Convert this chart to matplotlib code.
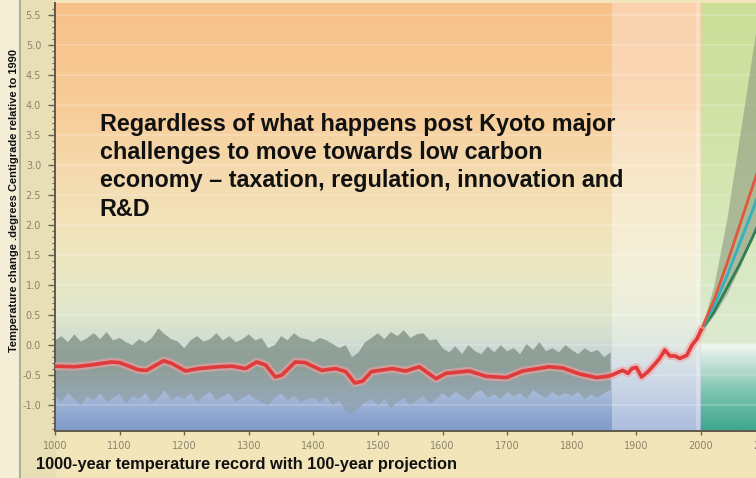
import numpy as np
import matplotlib
matplotlib.use("Agg")
import matplotlib.pyplot as plt
from matplotlib.colors import LinearSegmentedColormap

# reconstructed (smoothed) temperature, red line
recon_years = [1000, 1030, 1056, 1087, 1100, 1129, 1142, 1168, 1180, 1202, 1222, 1253,
               1274, 1295, 1312, 1326, 1341, 1351, 1372, 1387, 1413, 1434, 1450, 1464,
               1476, 1490, 1522, 1543, 1564, 1590, 1605, 1641, 1668, 1699, 1724, 1765,
               1786, 1812, 1838, 1855, 1864, 1872, 1879, 1887, 1893, 1900, 1908, 1918,
               1929, 1936, 1944, 1952, 1960, 1967, 1978, 1986, 1994, 2000]
recon_temp = [-0.35, -0.36, -0.33, -0.28, -0.29, -0.41, -0.42, -0.26, -0.30, -0.43, -0.39, -0.36,
              -0.35, -0.39, -0.28, -0.33, -0.53, -0.50, -0.28, -0.29, -0.42, -0.39, -0.44, -0.63,
              -0.60, -0.44, -0.39, -0.43, -0.36, -0.56, -0.47, -0.43, -0.52, -0.54, -0.43, -0.36,
              -0.38, -0.48, -0.54, -0.52, -0.49, -0.45, -0.42, -0.47, -0.39, -0.37, -0.53, -0.44,
              -0.31, -0.22, -0.08, -0.18, -0.18, -0.22, -0.17, 0.00, 0.11, 0.25]

# uncertainty band of the proxy record
band_years = list(range(1000, 1861, 10))
band_upper = [0.08, 0.15, 0.05, 0.18, 0.06, 0.12, 0.20, 0.10, 0.22, 0.08,
              0.12, 0.05, 0.00, 0.10, 0.04, 0.12, 0.28, 0.18, 0.10, 0.06,
              -0.05, 0.08, 0.15, 0.06, 0.10, 0.20, 0.08, 0.15, 0.05, 0.10,
              0.18, 0.08, 0.12, -0.05, 0.00, 0.15, 0.08, 0.20, 0.12, 0.10,
              0.05, 0.12, 0.08, 0.02, -0.05, 0.00, -0.20, -0.12, 0.05, 0.12,
              0.20, 0.10, 0.22, 0.15, 0.25, 0.12, 0.18, 0.20, 0.08, 0.10,
              -0.05, -0.12, -0.02, -0.15, 0.00, -0.10, -0.15, -0.02, -0.12, 0.00,
              -0.10, -0.05, -0.15, 0.02, -0.08, 0.05, -0.10, -0.05, -0.12, 0.00,
              -0.08, -0.15, -0.05, -0.12, -0.08, -0.20, -0.12]
band_lower = [-0.85, -0.95, -0.80, -0.90, -1.00, -0.85, -0.92, -0.80, -0.95, -0.88,
              -0.82, -0.98, -0.85, -0.90, -0.80, -0.95, -0.88, -0.75, -0.92, -0.85,
              -0.90, -0.80, -0.95, -0.85, -0.78, -0.92, -0.85, -0.80, -0.95, -0.88,
              -0.82, -0.90, -0.95, -1.00, -0.88, -0.80, -0.92, -0.85, -0.95, -0.90,
              -0.88, -0.95, -0.85, -1.00, -0.92, -1.10, -1.15, -1.05, -0.95, -0.90,
              -1.00, -0.90, -1.05, -0.95, -0.88, -1.00, -0.92, -0.85, -0.98, -0.90,
              -0.80, -0.88, -0.78, -0.85, -0.92, -0.80, -0.75, -0.88, -0.82, -0.90,
              -0.78, -0.85, -0.80, -0.90, -0.75, -0.82, -0.88, -0.78, -0.85, -0.80,
              -0.85, -0.78, -0.90, -0.82, -0.88, -0.80, -0.75]

# 100-year projections
proj_years = [2000, 2020, 2040, 2060, 2080, 2100]
proj_high = [0.25, 1.00, 2.10, 3.50, 4.90, 6.30]
proj_low = [0.20, 0.50, 0.85, 1.30, 1.80, 2.30]
proj_red = [0.25, 0.75, 1.35, 2.00, 2.65, 3.30]
proj_teal = [0.25, 0.65, 1.15, 1.70, 2.25, 2.85]
proj_green = [0.25, 0.55, 0.95, 1.35, 1.80, 2.30]

year_ticks = list(range(1000, 2101, 100))
temp_ticks = [-1.0, -0.5, 0.0, 0.5, 1.0, 1.5, 2.0, 2.5, 3.0, 3.5, 4.0, 4.5, 5.0, 5.5]

ymin, ymax = -1.43, 5.7

fig = plt.figure(figsize=(7.56, 4.78), dpi=100, facecolor='#f2e5ba')
# left strip behind the y label
fig.patches.append(plt.Rectangle((0, 0), 20 / 756, 1, transform=fig.transFigure,
                                 color='#f5eed6', zorder=-2))
fig.patches.append(plt.Rectangle((20 / 756, 0), 35 / 756, 1, transform=fig.transFigure,
                                 color='#e8dfb6', zorder=-2))
fig.lines.append(plt.Line2D([20 / 756, 20 / 756], [0, 1], transform=fig.transFigure,
                            color='#a9b296', lw=1.5, zorder=-1))

ax = fig.add_axes([55 / 756, 1 - 431 / 478, 710.6 / 756, 428 / 478])


def grad(stops):
    pos = [(v - ymin) / (ymax - ymin) for v, c in stops]
    return LinearSegmentedColormap.from_list('g', list(zip(pos, [c for v, c in stops])))


past = grad([(-1.43, '#7f9bcb'), (-0.8, '#a9bbd8'), (-0.3, '#c3d1da'), (0.1, '#d2ded0'),
             (0.5, '#dfe6cc'), (1.2, '#ebe8c4'), (2.0, '#f2e3bb'), (3.0, '#f5d9ac'),
             (4.0, '#f7cc98'), (5.7, '#f8c088')])
future = grad([(-1.43, '#3fa88f'), (-0.8, '#7cc3ae'), (-0.3, '#c6e2d8'), (-0.02, '#f0f5f0'),
               (0.02, '#dcebd0'), (1.0, '#d9e9c6'), (3.0, '#d4e5ae'), (5.7, '#cbdd96')])
col = np.linspace(0, 1, 400).reshape(-1, 1)
ax.imshow(col, cmap=past, origin='lower', extent=[1000, 2000, ymin, ymax], aspect='auto', zorder=0)
ax.imshow(col, cmap=future, origin='lower', extent=[2000, 2100, ymin, ymax], aspect='auto', zorder=0)

# lighter column over the instrumental period
ax.axvspan(1862, 1998, ymax=0.75, color='white', alpha=0.35, lw=0, zorder=1)
ax.axvspan(1862, 1998, ymin=0.75, color='#fde8dc', alpha=0.45, lw=0, zorder=1)
ax.axvspan(1992, 2000, color='white', alpha=0.25, lw=0, zorder=1)
for t in temp_ticks:
    ax.axhline(t, color='white', alpha=0.18, lw=1.5, zorder=1)

# proxy band: grey-green on top fading to blue-grey below
band = ax.fill_between(band_years, band_lower, band_upper, color='none', lw=0, zorder=2)
band_cmap = grad([(-1.43, '#8fa3b8'), (-0.9, '#93a4b0'), (-0.4, '#86978e'), (0.3, '#87998a'),
                  (5.7, '#87998a')])
shade = ax.imshow(col, cmap=band_cmap, origin='lower', extent=[1000, 1860, ymin, ymax],
                  aspect='auto', alpha=0.85, zorder=2)
shade.set_clip_path(band.get_paths()[0], transform=ax.transData)

ax.fill_between(proj_years, proj_low, proj_high, color='#8e9a80', alpha=0.6, lw=0, zorder=2)
ax.plot(proj_years, proj_green, color='#2f7f55', lw=2, zorder=3)
ax.plot(proj_years, proj_teal, color='#2fb2c2', lw=2, zorder=3)
ax.plot(proj_years, proj_red, color='#e0573c', lw=2, zorder=3)

ax.plot(recon_years, recon_temp, color='#f4a0a0', lw=6, alpha=0.6, solid_joinstyle='round', zorder=4)
ax.plot(recon_years, recon_temp, color='#e03a3a', lw=2.6, solid_joinstyle='round', zorder=5)

ax.set_xlim(1000, 2100)
ax.set_ylim(ymin, ymax)
ax.set_xticks(year_ticks)
ax.set_yticks(temp_ticks)
ax.set_yticks(np.arange(-1.4, 5.7, 0.1), minor=True)
ax.set_yticklabels(['%.1f' % t for t in temp_ticks])
ax.tick_params(axis='y', which='major', length=5, width=1, color='#6a6452',
               labelsize=7, labelcolor='#8c836c', pad=5)
ax.tick_params(axis='y', which='minor', length=2.5, width=0.8, color='#6a6452')
ax.tick_params(axis='x', length=3, width=1, color='#6a6452', labelsize=7,
               labelcolor='#8c836c', pad=4)
for s in ['top', 'right']:
    ax.spines[s].set_visible(False)
for s in ['left', 'bottom']:
    ax.spines[s].set_color('#5f5b4a')
    ax.spines[s].set_linewidth(1.4)

ax.text(1069, 3.87, 'Regardless of what happens post Kyoto major\n'
        'challenges to move towards low carbon\n'
        'economy \u2013 taxation, regulation, innovation and\n'
        'R&D', fontsize=16.8, fontweight='bold', color='#111111', va='top', ha='left',
        linespacing=1.29, family=['Liberation Sans', 'DejaVu Sans'], zorder=6)

fig.text(14 / 756, 1 - 201 / 478, 'Temperature change .degrees Centigrade relative to 1990',
         rotation=90, ha='center', va='center', fontsize=8.05, fontweight='bold',
         color='#111111', family=['Liberation Sans', 'DejaVu Sans'])
fig.text(36 / 756, 1 - 465 / 478, '1000-year temperature record with 100-year projection',
         ha='left', va='center', fontsize=11.8, fontweight='bold', color='#111111',
         family=['Liberation Sans Narrow', 'Liberation Sans', 'DejaVu Sans'])

fig.savefig('out.png', dpi=100, facecolor=fig.get_facecolor())
